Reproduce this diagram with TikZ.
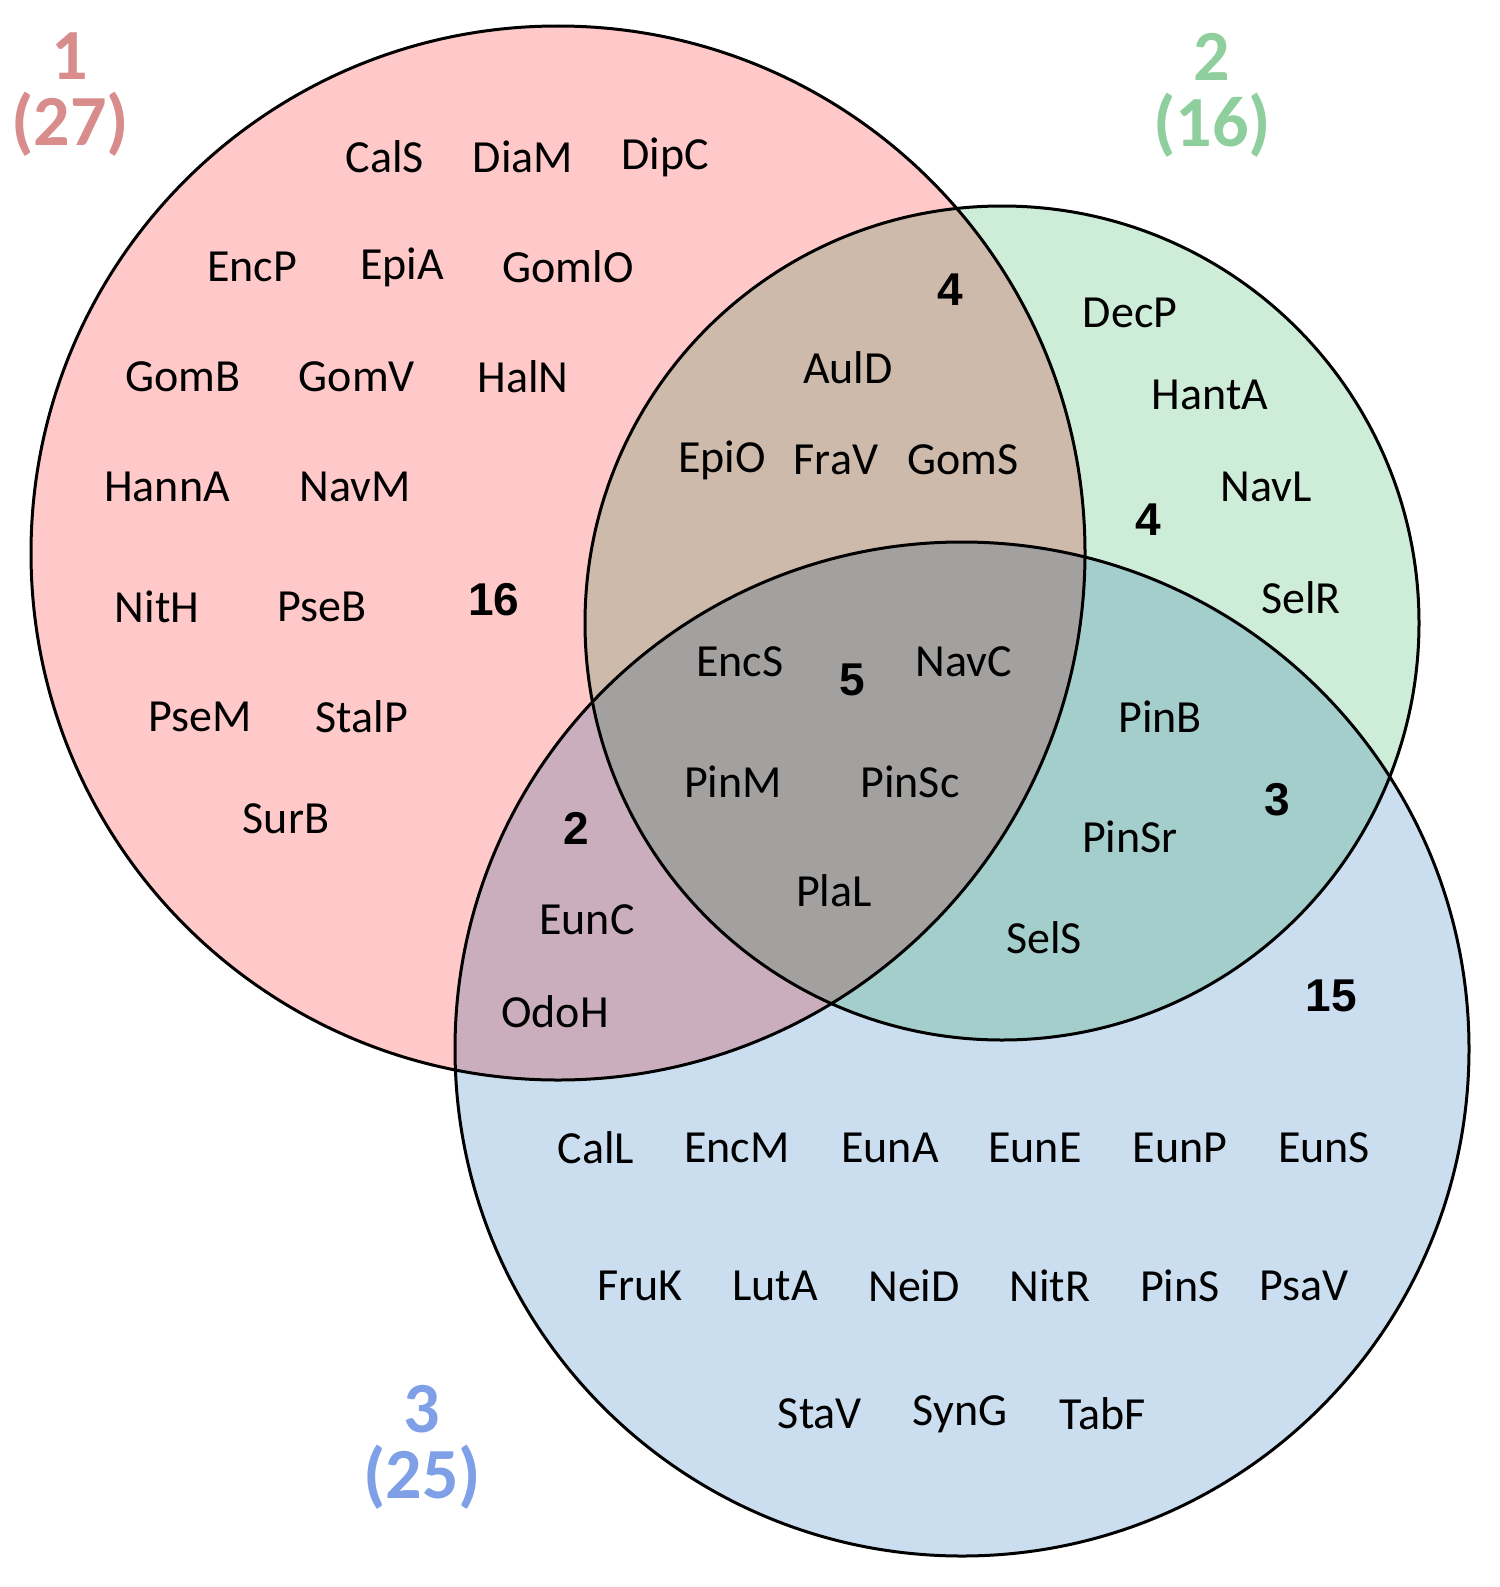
\documentclass[tikz,border=0pt]{standalone}
\usepackage{fontspec}
\setmainfont{Carlito}
\newfontfamily\numf{Liberation Sans}
\definecolor{cA}{HTML}{FFC9C9}
\definecolor{cB}{HTML}{CDEDD9}
\definecolor{cC}{HTML}{CBDEF0}
\definecolor{tA}{HTML}{D98C8C}
\definecolor{tB}{HTML}{8FCF9E}
\definecolor{tC}{HTML}{7F9FE6}
\begin{document}
\begin{tikzpicture}[x=1pt,y=-1pt,
 nm/.style={font=\fontsize{46}{46}\selectfont,inner sep=0pt},
 ct/.style={font=\numf\bfseries\fontsize{46}{46}\selectfont,inner sep=0pt},
 ttl/.style={font=\bfseries\fontsize{72}{66}\selectfont,align=center,inner sep=0pt}]
\useasboundingbox (0,0) rectangle (1499,1587);
\fill[white] (0,0) rectangle (1499,1587);
\begin{scope}[blend group=multiply]
\fill[cA] (558,553) circle (527);
\fill[cB] (1002,623) circle (417);
\fill[cC] (962,1049) circle (507);
\end{scope}
\draw[line width=3pt] (558,553) circle (527);
\draw[line width=3pt] (1002,623) circle (417);
\draw[line width=3pt] (962,1049) circle (507);
\node[ttl,text=tA] (t1) at (70,95) {1\\(27)};
\node[ttl,text=tB] (t2) at (1212,95) {2\\(16)};
\node[ttl,text=tC] (t3) at (422,1447) {3\\(25)};
% set 1 only
\node[nm] (a1) at (385,157) {CalS};
\node[nm] (a2) at (523,157) {DiaM};
\node[nm] (a3) at (665,157) {DipC};
\node[nm] (a4) at (252,267) {EncP};
\node[nm] (a5) at (402,267) {EpiA};
\node[nm] (a6) at (568,267) {GomlO};
\node[nm] (a7) at (183,377) {GomB};
\node[nm] (a8) at (357,377) {GomV};
\node[nm] (a9) at (523,377) {HalN};
\node[nm] (a10) at (167,487) {HannA};
\node[nm] (a11) at (355,487) {NavM};
\node[nm] (a12) at (157,607) {NitH};
\node[nm] (a13) at (322,607) {PseB};
\node[ct] (n16) at (494,600) {16};
\node[nm] (a14) at (200,717) {PseM};
\node[nm] (a15) at (362,717) {StalP};
\node[nm] (a16) at (286,819) {SurB};
% 1&2
\node[ct] (n4a) at (950,290) {4};
\node[nm] (b1) at (848,368) {AulD};
\node[nm] (b2) at (722,460) {EpiO};
\node[nm] (b3) at (836,460) {FraV};
\node[nm] (b4) at (963,460) {GomS};
% 2 only
\node[nm] (c1) at (1130,313) {DecP};
\node[nm] (c2) at (1210,395) {HantA};
\node[nm] (c3) at (1266,487) {NavL};
\node[ct] (n4b) at (1148,520) {4};
\node[nm] (c4) at (1301,598) {SelR};
% center
\node[nm] (d1) at (740,662) {EncS};
\node[ct] (n5) at (852,680) {5};
\node[nm] (d2) at (964,662) {NavC};
\node[nm] (d3) at (733,782) {PinM};
\node[nm] (d4) at (910,782) {PinSc};
\node[nm] (d5) at (834,891) {PlaL};
% 2&3
\node[nm] (e1) at (1160,717) {PinB};
\node[ct] (n3) at (1277,800) {3};
\node[nm] (e2) at (1130,837) {PinSr};
\node[nm] (e3) at (1044,938) {SelS};
% 1&3
\node[ct] (n2) at (576,828) {2};
\node[nm] (f1) at (587,920) {EunC};
\node[nm] (f2) at (555,1012) {OdoH};
% 3 only
\node[ct] (n15) at (1331,996) {15};
\node[nm] (g1) at (596,1148) {CalL};
\node[nm] (g2) at (737,1148) {EncM};
\node[nm] (g3) at (890,1148) {EunA};
\node[nm] (g4) at (1035,1148) {EunE};
\node[nm] (g5) at (1180,1148) {EunP};
\node[nm] (g6) at (1324,1148) {EunS};
\node[nm] (g7) at (640,1286) {FruK};
\node[nm] (g8) at (775,1286) {LutA};
\node[nm] (g9) at (914,1286) {NeiD};
\node[nm] (g10) at (1050,1286) {NitR};
\node[nm] (g11) at (1180,1286) {PinS};
\node[nm] (g12) at (1304,1286) {PsaV};
\node[nm] (g13) at (820,1414) {StaV};
\node[nm] (g14) at (960,1414) {SynG};
\node[nm] (g15) at (1103,1414) {TabF};
\end{tikzpicture}
\end{document}
